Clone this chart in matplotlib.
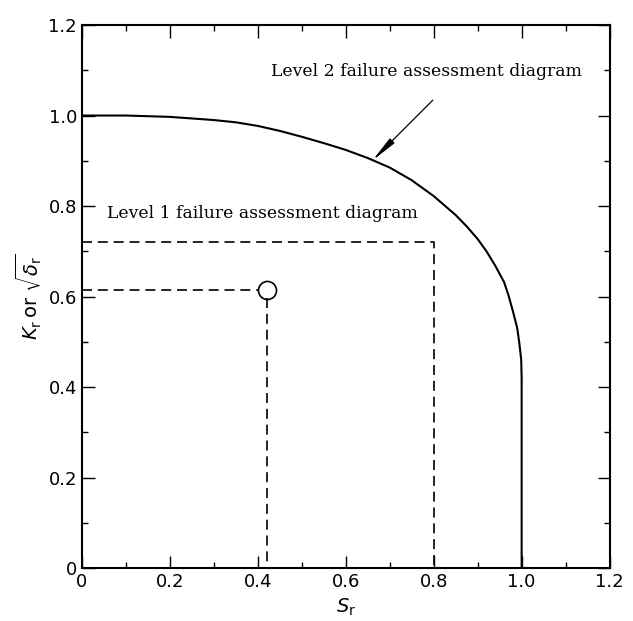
import matplotlib
matplotlib.use("Agg")
import matplotlib.pyplot as plt
from matplotlib.ticker import MultipleLocator

# level 2 failure assessment curve
sr_curve = [0.0, 0.1, 0.2, 0.3, 0.35, 0.4, 0.45, 0.5, 0.55, 0.6, 0.65, 0.7,
            0.75, 0.8, 0.85, 0.875, 0.9, 0.92, 0.94, 0.96, 0.97, 0.98, 0.99,
            0.995, 0.999, 1.0, 1.0]
kr_curve = [1.0, 1.0, 0.997, 0.99, 0.985, 0.977, 0.966, 0.953, 0.939, 0.924,
            0.906, 0.885, 0.857, 0.822, 0.78, 0.755, 0.727, 0.70, 0.668,
            0.632, 0.603, 0.568, 0.53, 0.495, 0.46, 0.42, 0.0]

# level 1 box and the assessed point
level1_sr = 0.8
level1_kr = 0.72
point_sr = 0.42
point_kr = 0.615

tick_vals = [0, 0.2, 0.4, 0.6, 0.8, 1.0, 1.2]
tick_text = ["0", "0.2", "0.4", "0.6", "0.8", "1.0", "1.2"]

fig = plt.figure(figsize=(6.33, 6.21), dpi=100)
ax = fig.add_axes([0.1295, 0.0853, 0.8335, 0.8744])

ax.plot(sr_curve, kr_curve, color="black", lw=1.5)

ax.plot([0, level1_sr, level1_sr], [level1_kr, level1_kr, 0],
        color="black", lw=1.2, dashes=(6, 3.5))
ax.plot([0, point_sr - 0.018], [point_kr, point_kr],
        color="black", lw=1.2, dashes=(6, 3.5))
ax.plot([point_sr, point_sr], [point_kr - 0.018, 0],
        color="black", lw=1.2, dashes=(6, 3.5))
ax.plot([point_sr], [point_kr], marker="o", ms=13, mfc="none",
        mec="black", mew=1.2)

serif = ["DejaVu Serif"]
ax.text(0.43, 1.097, "Level 2 failure assessment diagram", fontsize=12.4,
        family=serif, va="center", ha="left")
ax.text(0.057, 0.784, "Level 1 failure assessment diagram", fontsize=12.4,
        family=serif, va="center", ha="left")
ax.annotate("", xy=(0.661, 0.901), xytext=(0.798, 1.034),
            arrowprops=dict(arrowstyle="-|>,head_length=1.6,head_width=0.2",
                            color="black", lw=0.9, shrinkA=0, shrinkB=0))

ax.set_xlim(0, 1.2)
ax.set_ylim(0, 1.2)
ax.set_xticks(tick_vals)
ax.set_yticks(tick_vals)
ax.set_xticklabels(tick_text)
ax.set_yticklabels(tick_text)
ax.xaxis.set_minor_locator(MultipleLocator(0.1))
ax.yaxis.set_minor_locator(MultipleLocator(0.1))
ax.tick_params(which="both", direction="in", top=True, right=True,
               width=1.0, labelsize=13)
ax.tick_params(which="major", length=9)
ax.tick_params(which="minor", length=4.5)
for sp in ax.spines.values():
    sp.set_linewidth(1.5)

ax.set_xlabel(r"$S_{\mathrm{r}}$", fontsize=14, labelpad=4)
ax.set_ylabel(r"$K_{\mathrm{r}}\,\mathrm{or}\,\,\sqrt{\delta_{\mathrm{r}}}$",
              fontsize=14, labelpad=3)

fig.savefig("out.png", dpi=100)
